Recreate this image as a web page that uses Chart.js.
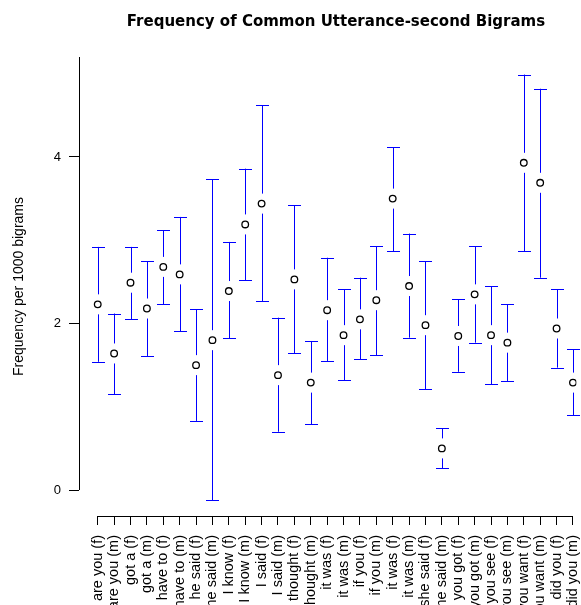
<!DOCTYPE html>
<html>
<head>
<meta charset="utf-8">
<script src="https://cdn.jsdelivr.net/npm/chart.js@4.4.1/dist/chart.umd.min.js"></script>
<style>
  html, body { margin: 0; padding: 0; background: #fff; }
  #wrap { width: 581px; height: 605px; position: relative; }
</style>
</head>
<body>
<div id="wrap"><canvas id="chart"></canvas></div>
<script>
// --- dados ---
const categories = [
  'are you (f)', 'are you (m)', 'got a (f)', 'got a (m)', 'have to (f)', 'have to (m)',
  'he said (f)', 'he said (m)', 'I know (f)', 'I know (m)', 'I said (f)', 'I said (m)',
  'I thought (f)', 'I thought (m)', 'it was (f)', 'it was (m)', 'if you (f)', 'if you (m)',
  'it was (f)', 'it was (m)', 'she said (f)', 'she said (m)', 'you got (f)', 'you got (m)',
  'you see (f)', 'you see (m)', 'you want (f)', 'you want (m)', 'did you (f)', 'did you (m)'
];
const means = [2.23, 1.64, 2.49, 2.18, 2.68, 2.59, 1.50, 1.80, 2.39, 3.19, 3.44, 1.38, 2.53, 1.29, 2.16,
               1.86, 2.05, 2.28, 3.50, 2.45, 1.98, 0.50, 1.85, 2.35, 1.86, 1.77, 3.93, 3.69, 1.94, 1.29];
const upper = [2.92, 2.12, 2.92, 2.75, 3.12, 3.28, 2.17, 3.73, 2.98, 3.86, 4.62, 2.07, 3.42, 1.79, 2.79,
               2.41, 2.55, 2.93, 4.12, 3.08, 2.75, 0.74, 2.29, 2.93, 2.45, 2.23, 4.99, 4.82, 2.41, 1.69];
const lower = [1.54, 1.15, 2.05, 1.61, 2.23, 1.91, 0.83, -0.12, 1.82, 2.52, 2.27, 0.70, 1.64, 0.79, 1.55,
               1.32, 1.57, 1.62, 2.87, 1.83, 1.21, 0.26, 1.42, 1.77, 1.27, 1.31, 2.87, 2.55, 1.47, 0.90];
const yTicks = [0, 2, 4];

const titleText = 'Frequency of Common Utterance-second Bigrams';
const yLabel = 'Frequency per 1000 bigrams';

Chart.defaults.font.family = "'Liberation Sans', Arial, Helvetica, sans-serif";
Chart.defaults.color = '#000';

// barras de erro desenhadas pelas escalas do Chart.js
const errorBars = {
  id: 'errorBars',
  beforeDatasetsDraw(chart) {
    const { ctx, scales: { x, y } } = chart;
    const gap = 10, cap = 6.5;
    ctx.save();
    ctx.strokeStyle = '#0000ff';
    ctx.lineWidth = 1;
    means.forEach((m, i) => {
      const px = Math.round(x.getPixelForValue(i + 1)) + 0.5;
      const pm = y.getPixelForValue(m);
      const ph = y.getPixelForValue(upper[i]);
      const pl = y.getPixelForValue(lower[i]);
      ctx.beginPath();
      if (pm - gap > ph) { ctx.moveTo(px, ph); ctx.lineTo(px, pm - gap); }
      if (pm + gap < pl) { ctx.moveTo(px, pm + gap); ctx.lineTo(px, pl); }
      ctx.moveTo(px - cap, Math.round(ph) + 0.5); ctx.lineTo(px + cap, Math.round(ph) + 0.5);
      ctx.moveTo(px - cap, Math.round(pl) + 0.5); ctx.lineTo(px + cap, Math.round(pl) + 0.5);
      ctx.stroke();
    });
    ctx.restore();
  }
};

// eixos no estilo R: a linha vai só do primeiro ao último tick
const rAxes = {
  id: 'rAxes',
  afterDraw(chart) {
    const { ctx, scales: { x, y }, chartArea } = chart;
    ctx.save();
    ctx.strokeStyle = '#000';
    ctx.lineWidth = 1;
    ctx.beginPath();
    const ax = Math.round(chartArea.left) + 0.5;
    ctx.moveTo(ax, y.getPixelForValue(0));
    ctx.lineTo(ax, chartArea.top);
    const ay = Math.round(chartArea.bottom) + 0.5;
    ctx.moveTo(x.getPixelForValue(1), ay);
    ctx.lineTo(x.getPixelForValue(categories.length), ay);
    ctx.stroke();

    ctx.fillStyle = '#000';
    ctx.font = "bold 15px 'DejaVu Sans', sans-serif";
    ctx.textAlign = 'center';
    ctx.textBaseline = 'alphabetic';
    ctx.fillText(titleText, 336, 26);
    ctx.restore();
  }
};

new Chart(document.getElementById('chart'), {
  type: 'scatter',
  data: {
    datasets: [{
      data: means.map((m, i) => ({ x: i + 1, y: m })),
      pointRadius: 3.3,
      pointHoverRadius: 3.3,
      pointBorderWidth: 1.3,
      pointBackgroundColor: '#fff',
      pointBorderColor: '#000'
    }]
  },
  options: {
    responsive: true,
    maintainAspectRatio: false,
    animation: false,
    layout: { padding: { top: 57, left: 0, right: 0, bottom: 0 } },
    plugins: { legend: { display: false }, title: { display: false }, tooltip: { enabled: false } },
    scales: {
      x: {
        type: 'linear',
        min: -0.143,
        max: 30.21,
        afterBuildTicks: s => { s.ticks = categories.map((c, i) => ({ value: i + 1 })); },
        afterFit: s => { s.height = 89; s.paddingLeft = 0; s.paddingRight = 0; },
        ticks: {
          autoSkip: false,
          minRotation: 90,
          maxRotation: 90,
          padding: 10,
          font: { size: 14.5 },
          callback: v => categories[v - 1]
        },
        grid: { drawOnChartArea: false, drawTicks: true, tickLength: 9, color: '#000' },
        border: { display: false }
      },
      y: {
        min: -0.312,
        max: 5.201,
        afterBuildTicks: s => { s.ticks = yTicks.map(v => ({ value: v })); },
        afterFit: s => { s.width = 79; s.paddingTop = 0; s.paddingBottom = 0; },
        ticks: { padding: 8, font: { size: 13 } },
        grid: { drawOnChartArea: false, drawTicks: true, tickLength: 10, color: '#000' },
        border: { display: false },
        title: { display: true, text: yLabel, font: { size: 14 }, padding: { top: 11, bottom: 0 } }
      }
    }
  },
  plugins: [errorBars, rAxes]
});
</script>
</body>
</html>
